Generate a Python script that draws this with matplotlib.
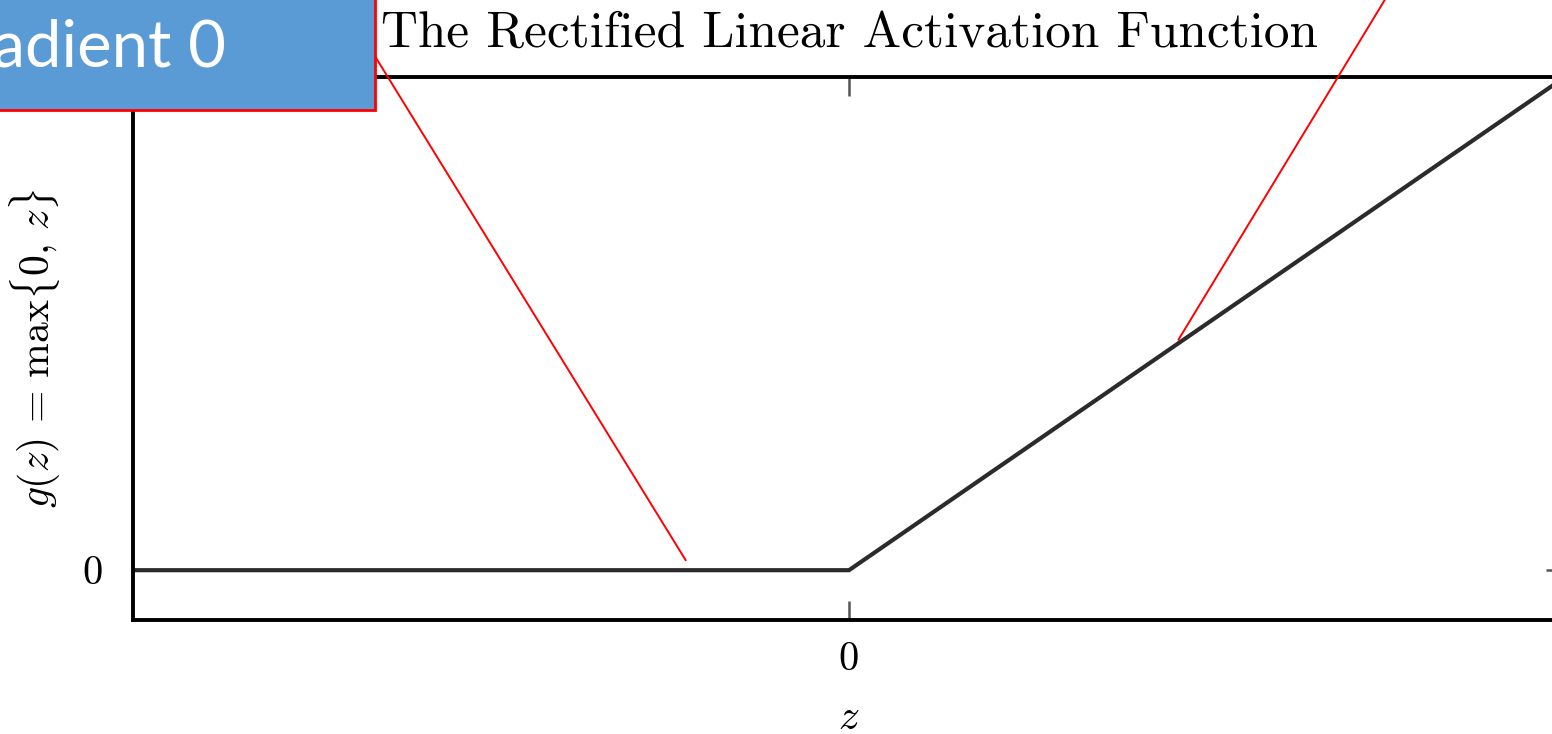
import numpy as np
import matplotlib
matplotlib.use("Agg")
import matplotlib.pyplot as plt
from matplotlib.patches import Rectangle

plt.rcParams['mathtext.fontset'] = 'cm'

# ReLU curve samples
z = [-10, 0, 10]
g = [0, 0, 10]
x_ticks = [0]
y_ticks = [0]

title = 'The Rectified Linear Activation Function'
callout_text = 'Gradient 0'

fig = plt.figure(figsize=(15.52, 7.34), dpi=100)
ax = fig.add_axes([133 / 1552, 114 / 734, 1432 / 1552, 543 / 734])

ax.plot(z, g, color='#2b2b2b', linewidth=3.0, solid_joinstyle='miter')
ax.set_xlim(-10, 10)
ax.set_ylim(-1.01, 10)

for s in ax.spines.values():
    s.set_linewidth(2.8)
    s.set_color('black')

ax.set_xticks(x_ticks)
ax.set_yticks(y_ticks)
ax.set_xticklabels([str(v) for v in x_ticks], fontfamily='cmr10', fontsize=29)
ax.set_yticklabels([str(v) for v in y_ticks], fontfamily='cmr10', fontsize=29)
ax.tick_params(direction='in', length=14, width=1.8, color='#555555',
               top=True, right=True)
ax.tick_params(axis='x', pad=16)
ax.tick_params(axis='y', pad=22)

ax.set_title(title, fontfamily='cmr10', fontsize=37, pad=22)
ax.set_xlabel(r'$z$', fontsize=30, labelpad=13)
ax.set_ylabel(r'$g(z)\,=\,\max\{0,\,z\}$', fontsize=30, labelpad=14)

# callout box in the top-left corner
box = Rectangle((-0.01, 1 - 110 / 734), 0.01 + 375 / 1552, 0.2,
                transform=fig.transFigure, facecolor='#5b9bd5',
                edgecolor='red', linewidth=2, clip_on=False, zorder=5)
fig.patches.append(box)
fig.text(226 / 1552, 1 - 48 / 734, callout_text, ha='right', va='center',
         color='white', fontsize=47, fontfamily='Lato', zorder=6)

# connector lines from the callouts to the curve
ax.annotate('', xy=(-2.28, 0.2), xycoords='data',
            xytext=(365 / 1552, 1 - 40 / 734), textcoords='figure fraction',
            arrowprops=dict(arrowstyle='-', color='red', lw=1.4,
                            shrinkA=0, shrinkB=0), annotation_clip=False)
ax.annotate('', xy=(4.6, 4.67), xycoords='data',
            xytext=(1392 / 1552, 1 + 12 / 734), textcoords='figure fraction',
            arrowprops=dict(arrowstyle='-', color='red', lw=1.4,
                            shrinkA=0, shrinkB=0), annotation_clip=False)

fig.savefig('out.png', dpi=100)
